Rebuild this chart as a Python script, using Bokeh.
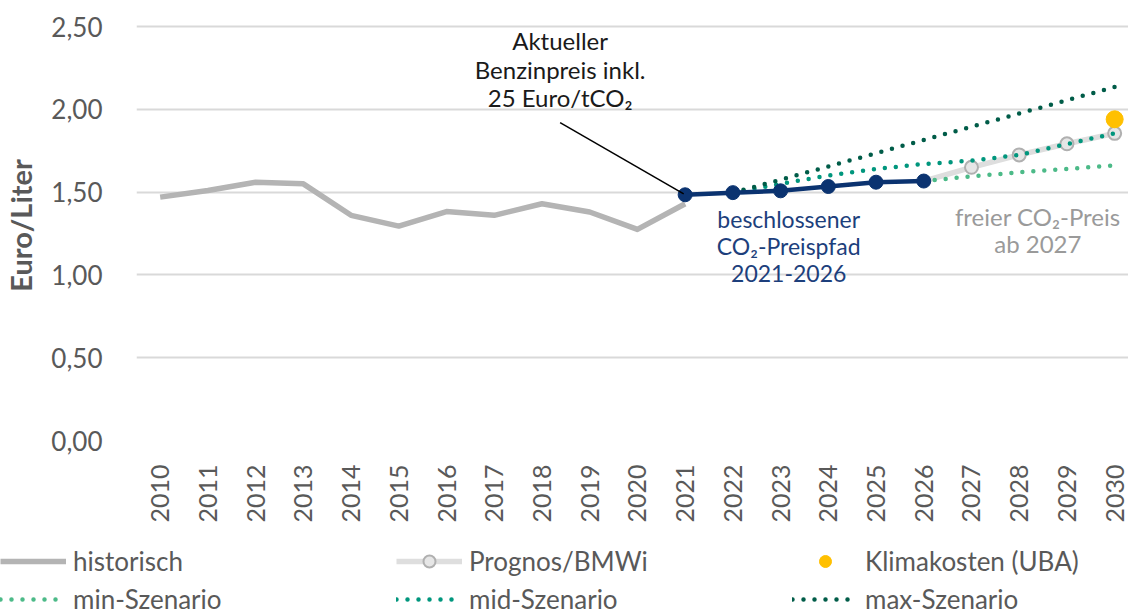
from bokeh.plotting import figure
from bokeh.layouts import column
from bokeh.models import Range1d, FixedTicker, Legend, LegendItem, Label
from bokeh.embed import file_html
from bokeh.resources import INLINE

# ---- data ----
hist_years = list(range(2010, 2022))
hist_vals = [1.47, 1.51, 1.56, 1.55, 1.36, 1.295, 1.383, 1.36, 1.43, 1.38, 1.275, 1.43]

path_years = [2021, 2022, 2023, 2024, 2025, 2026]
path_vals = [1.484, 1.497, 1.508, 1.534, 1.560, 1.567]

prog_years = [2026, 2027, 2028, 2029, 2030]
prog_vals = [1.567, 1.650, 1.725, 1.792, 1.855]

uba_years = [2030]
uba_vals = [1.94]

min_years = [2026, 2027, 2028, 2029, 2030]
min_vals = [1.567, 1.595, 1.620, 1.640, 1.662]

mid_years = [2022, 2023, 2024, 2025, 2026, 2027, 2028, 2029, 2030]
mid_vals = [1.497, 1.550, 1.600, 1.640, 1.670, 1.690, 1.725, 1.790, 1.855]

max_years = [2022, 2023, 2024, 2025, 2026, 2027, 2028, 2029, 2030]
max_vals = [1.497, 1.575, 1.655, 1.735, 1.815, 1.895, 1.975, 2.055, 2.135]

y_ticks = [0, 0.5, 1.0, 1.5, 2.0, 2.5]
y_tick_labels = ["0,00", "0,50", "1,00", "1,50", "2,00", "2,50"]
x_ticks = list(range(2010, 2031))

FONT = "Lato"
GREY_TXT = "#595959"

# styles
HIST = dict(line_color="#b4b4b4", line_width=5.5, line_join="round")
PROG_L = dict(line_color="#dedede", line_width=5.5)
PROG_M = dict(size=13, fill_color="#e6e6e6", line_color="#b0b0b0", line_width=2)
DOT = dict(line_width=4.5, line_cap="round", line_dash="0 11")
MIN_C, MID_C, MAX_C = "#4cba88", "#00967d", "#005c48"
UBA = dict(size=17, fill_color="#ffc000", line_color="#ffc000")
NAVY = "#0b3370"

p = figure(width=1128, height=530, output_backend="svg", toolbar_location=None,
           x_range=Range1d(2009.504, 2030.29), y_range=Range1d(0, 2.597),
           min_border_left=123, min_border_right=0, min_border_top=10,
           min_border_bottom=90)
p.outline_line_color = None
p.frame_align = False

# axes
p.xaxis.ticker = FixedTicker(ticks=x_ticks)
p.xaxis.major_label_orientation = 1.5707963
p.xaxis.axis_line_color = None
p.xaxis.major_tick_line_color = None
p.xaxis.minor_tick_line_color = None
p.xaxis.major_label_text_font = FONT
p.xaxis.major_label_text_font_size = "25px"
p.xaxis.major_label_text_color = GREY_TXT
p.xaxis.major_label_standoff = 18

p.yaxis.ticker = FixedTicker(ticks=y_ticks)
p.yaxis.major_label_overrides = {t: l for t, l in zip(y_ticks, y_tick_labels)}
p.yaxis.axis_line_color = None
p.yaxis.major_tick_line_color = None
p.yaxis.minor_tick_line_color = None
p.yaxis.major_label_text_font = FONT
p.yaxis.major_label_text_font_size = "26px"
p.yaxis.major_label_text_color = GREY_TXT
p.yaxis.major_label_standoff = 28
p.yaxis.axis_label = "Euro/Liter"
p.yaxis.axis_label_text_font = FONT
p.yaxis.axis_label_text_font_style = "bold"
p.yaxis.axis_label_text_font_size = "29px"
p.yaxis.axis_label_text_color = GREY_TXT
p.yaxis.axis_label_standoff = 10

p.xgrid.grid_line_color = None
p.ygrid.grid_line_color = "#d9d9d9"
p.ygrid.grid_line_width = 2

# glyphs
p.line(hist_years, hist_vals, **HIST)
p.line(prog_years, prog_vals, **PROG_L)
p.scatter(prog_years[1:], prog_vals[1:], **PROG_M)
p.line(min_years, min_vals, line_color=MIN_C, **DOT)
p.line(mid_years, mid_vals, line_color=MID_C, **DOT)
p.line(max_years, max_vals, line_color=MAX_C, **DOT)
p.line(path_years, path_vals, line_color=NAVY, line_width=4.5)
p.scatter(path_years, path_vals, size=14, fill_color=NAVY, line_color=NAVY)
p.scatter(uba_years, uba_vals, **UBA)

# leader line
p.segment(x0=[2018.38], y0=[1.92], x1=[2020.97], y1=[1.49], line_color="black", line_width=1.5)

def add_lines(x, ys, texts, color, size):
    for y, t in zip(ys, texts):
        p.add_layout(Label(x=x, y=y, text=t, text_align="center", text_baseline="middle",
                           text_font=FONT, text_font_size=size, text_color=color))

add_lines(2018.38, [2.415, 2.24, 2.07], ["Aktueller", "Benzinpreis inkl.", "25 Euro/tCO₂"], "#1a1a1a", "24px")
add_lines(2023.17, [1.34, 1.175, 1.01], ["beschlossener", "CO₂-Preispfad", "2021-2026"], "#1d3f7c", "23px")
add_lines(2028.39, [1.353, 1.19], ["freier CO₂-Preis", "ab 2027"], "#9a9a9a", "24px")

# ---- legend strip (series re-drawn off-range, only their legend glyphs show) ----
q = figure(width=1128, height=85, output_backend="svg", toolbar_location=None,
           x_range=Range1d(0, 1), y_range=Range1d(0, 1),
           x_axis_type=None, y_axis_type=None,
           min_border_left=0, min_border_right=0, min_border_top=0, min_border_bottom=0)
q.outline_line_color = None
q.grid.visible = False
q.frame_align = False

l_hist = q.line(hist_years, hist_vals, **HIST)
l_prog_l = q.line(prog_years, prog_vals, **PROG_L)
l_prog_m = q.scatter(prog_years[1:], prog_vals[1:], **PROG_M)
l_uba = q.scatter(uba_years, uba_vals, **UBA)
l_min = q.line(min_years, min_vals, line_color=MIN_C, **DOT)
l_mid = q.line(mid_years, mid_vals, line_color=MID_C, **DOT)
l_max = q.line(max_years, max_vals, line_color=MAX_C, **DOT)

legend = Legend(items=[
    LegendItem(label="historisch", renderers=[l_hist]),
    LegendItem(label="Prognos/BMWi", renderers=[l_prog_l, l_prog_m]),
    LegendItem(label="Klimakosten (UBA)", renderers=[l_uba]),
    LegendItem(label="min-Szenario", renderers=[l_min]),
    LegendItem(label="mid-Szenario", renderers=[l_mid]),
    LegendItem(label="max-Szenario", renderers=[l_max]),
], location=(0, 0), orientation="horizontal", ncols=3,
    glyph_width=66, glyph_height=30, label_width=317, label_height=30,
    label_standoff=7, spacing=6, padding=0, margin=0,
    label_text_font=FONT, label_text_font_size="26px", label_text_color=GREY_TXT,
    background_fill_alpha=0, border_line_color=None)
q.add_layout(legend, "center")

layout = column(p, q, spacing=0)
open("out.html", "w").write(file_html(layout, INLINE))
